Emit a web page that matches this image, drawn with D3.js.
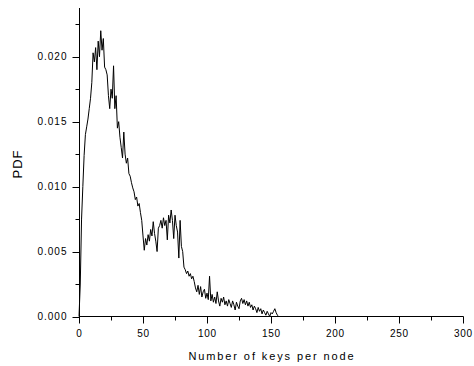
<!DOCTYPE html>
<html>
<head>
<meta charset="utf-8">
<script src="https://cdn.jsdelivr.net/npm/d3@7"></script>
<style>
html,body{margin:0;padding:0;background:#fff;}
svg{display:block;}
text{font-family:"Liberation Sans",Arial,sans-serif;fill:#000;}
</style>
</head>
<body>
<svg id="chart" width="474" height="366"></svg>
<script>
// Data: PDF of number of keys per node (k = 0,1,2,...)
const keys = d3.range(0, 157);
const pdf = [
0.0000,0.0025,0.0075,0.0100,0.0124,0.0140,0.0146,0.0152,0.0160,0.0168,
0.0180,0.0203,0.0196,0.0207,0.0190,0.0212,0.0200,0.0220,0.0205,0.0214,
0.0192,0.0190,0.0186,0.0170,0.0160,0.0175,0.0168,0.0193,0.0160,0.0170,
0.0145,0.0150,0.0138,0.0130,0.0122,0.0142,0.0125,0.0118,0.0122,0.0110,
0.0108,0.0103,0.0099,0.0096,0.0090,0.0092,0.0085,0.0087,0.0080,0.0074,
0.0062,0.0051,0.0060,0.0055,0.0063,0.0058,0.0067,0.0062,0.0073,0.0064,
0.0058,0.0050,0.0068,0.0070,0.0074,0.0068,0.0076,0.0070,0.0074,0.0059,
0.0078,0.0072,0.0082,0.0074,0.0060,0.0078,0.0070,0.0065,0.0045,0.0074,
0.0054,0.0050,0.0038,0.0036,0.0033,0.0035,0.0031,0.0033,0.0029,0.0031,
0.0027,0.0022,0.0019,0.0024,0.0017,0.0023,0.0015,0.0019,0.0021,0.0014,
0.0018,0.0013,0.0031,0.0012,0.0017,0.0011,0.0015,0.0010,0.0019,0.0012,
0.0008,0.0014,0.0011,0.0015,0.0009,0.0012,0.0008,0.0013,0.0010,0.0007,
0.0012,0.0009,0.0005,0.0011,0.0008,0.0006,0.0012,0.0014,0.0010,0.0013,
0.0009,0.0012,0.0008,0.0011,0.0007,0.0009,0.0005,0.0008,0.0006,0.0003,
0.0007,0.0004,0.0006,0.0002,0.0005,0.0003,0.0001,0.0004,0.0002,0.0000,
0.0003,0.0002,0.0004,0.0006,0.0003,0.0001,0.0000
];
const xTicks = [0, 50, 100, 150, 200, 250, 300];
const xMinor = [25, 75, 125, 175, 225, 275];
const yTicks = [0, 0.005, 0.010, 0.015, 0.020];
const yMinor = [0.0025, 0.0075, 0.0125, 0.0175, 0.0225];
const xTitle = "Number of keys per node";
const yTitle = "PDF";

const svg = d3.select("#chart");
const x = d3.scaleLinear().domain([0, 300]).range([79, 463]);
const y = d3.scaleLinear().domain([0, 0.02375]).range([316.5, 8]);

// X axis
const xAxis = svg.append("g").attr("transform", "translate(0,316.5)");
xAxis.append("line").attr("x1", x(0)).attr("x2", x(300) + 0.5).attr("stroke", "#000");
xAxis.selectAll("line.maj").data(xTicks).enter().append("line")
  .attr("class", "maj").attr("x1", d => Math.round(x(d)) + 0.5).attr("x2", d => Math.round(x(d)) + 0.5)
  .attr("y1", 0).attr("y2", 7).attr("stroke", "#000");
xAxis.selectAll("line.min").data(xMinor).enter().append("line")
  .attr("class", "min").attr("x1", d => Math.round(x(d)) + 0.5).attr("x2", d => Math.round(x(d)) + 0.5)
  .attr("y1", 0).attr("y2", 4).attr("stroke", "#000");
xAxis.selectAll("text").data(xTicks).enter().append("text")
  .attr("x", d => x(d) + 0.5).attr("y", 20)
  .attr("text-anchor", "middle").attr("font-size", 10).attr("letter-spacing", "0.7px")
  .text(d => d);

// Y axis
const yAxis = svg.append("g").attr("transform", "translate(79.5,0)");
yAxis.append("line").attr("y1", y(0)).attr("y2", y(0.02375)).attr("stroke", "#000");
yAxis.selectAll("line.maj").data(yTicks).enter().append("line")
  .attr("class", "maj").attr("y1", d => Math.round(y(d)) + 0.5).attr("y2", d => Math.round(y(d)) + 0.5)
  .attr("x1", -7).attr("x2", 0).attr("stroke", "#000");
yAxis.selectAll("line.min").data(yMinor).enter().append("line")
  .attr("class", "min").attr("y1", d => Math.round(y(d)) + 0.5).attr("y2", d => Math.round(y(d)) + 0.5)
  .attr("x1", -4).attr("x2", 0).attr("stroke", "#000");
yAxis.selectAll("text").data(yTicks).enter().append("text")
  .attr("x", -12).attr("y", d => y(d) + 3.5)
  .attr("text-anchor", "end").attr("font-size", 10).attr("letter-spacing", "1px")
  .text(d => d3.format(".3f")(d));

// Line
const line = d3.line().x((d, i) => x(keys[i])).y(d => y(d));
svg.append("path").datum(pdf).attr("d", line)
  .attr("fill", "none").attr("stroke", "#000").attr("stroke-width", 1);

// Titles
svg.append("text").attr("x", 272).attr("y", 360)
  .attr("text-anchor", "middle").attr("font-size", 11).attr("letter-spacing", "1.9px")
  .text(xTitle);
svg.append("text").attr("transform", "translate(22,164) rotate(-90)")
  .attr("text-anchor", "middle").attr("font-size", 13).attr("letter-spacing", "1px")
  .text(yTitle);
</script>
</body>
</html>
